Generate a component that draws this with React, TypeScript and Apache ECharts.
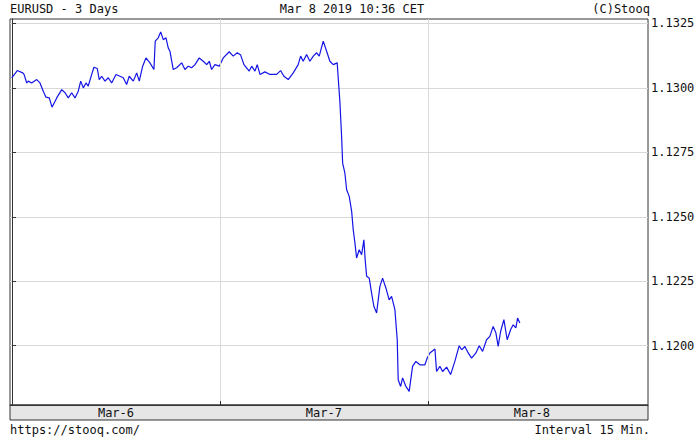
import { useEffect, useRef } from "react";
import * as echarts from "echarts";

// hours since Mar-6 00:00 CET
const hours = [
  -0.03, 0.61, 1.24, 1.39, 1.7, 1.88, 2.27, 2.85, 3.23, 3.61, 3.92, 4.3, 4.62, 5.16, 5.74, 6.12, 6.5, 6.89, 7.27, 7.65,
  7.93, 8.23, 8.54, 8.8, 9.2, 9.46, 9.84, 10.07, 10.35, 10.73, 11.11, 11.5, 12.0, 12.46, 12.84, 13.23, 13.53, 14.0, 14.39, 14.69,
  15.08, 15.46, 15.92, 16.38, 16.53, 16.88, 17.16, 17.46, 17.77, 18.03, 18.23, 18.61, 19.0, 19.58, 19.96, 20.34, 20.73, 21.12, 21.61, 22.07,
  22.47, 22.77, 23.04, 23.42, 23.92, 24.38, 25.07, 25.53, 26.0, 26.39, 26.77, 27.38, 27.66, 28.04, 28.3, 28.62, 29.19, 29.77, 30.54, 31.0,
  31.38, 31.88, 32.46, 33.03, 33.31, 33.61, 34.0, 34.38, 34.77, 35.16, 35.46, 35.92, 36.31, 36.69, 37.07, 37.53, 37.65, 37.85, 38.04, 38.16,
  38.42, 38.62, 38.92, 39.2, 39.38, 39.58, 39.77, 40.07, 40.35, 40.61, 40.76, 40.93, 41.23, 41.5, 41.77, 42.08, 42.46, 42.77, 43.15, 43.53,
  43.81, 44.19, 44.46, 44.57, 44.85, 45.08, 45.46, 45.84, 46.23, 46.61, 47.08, 47.65, 47.92, 48.23, 48.81, 49.0, 49.38, 49.7, 50.16, 50.62,
  51.11, 51.61, 51.89, 52.27, 52.65, 53.04, 53.54, 53.92, 54.31, 54.77, 55.15, 55.53, 55.85, 56.11, 56.39, 56.77, 57.15, 57.54, 57.84, 58.15,
  58.35, 58.61,
];

const prices = [
  1.13039, 1.13067, 1.13058, 1.13052, 1.13019, 1.13026, 1.13019, 1.13032, 1.13019, 1.12987, 1.12964, 1.12961, 1.12925, 1.12961, 1.12993, 1.12981, 1.12961, 1.12981, 1.12961, 1.12987,
  1.13026, 1.13, 1.13019, 1.13007, 1.13052, 1.1308, 1.13075, 1.13032, 1.13045, 1.13026, 1.13039, 1.13019, 1.13052, 1.13045, 1.13039, 1.13013, 1.13045, 1.13026, 1.13058, 1.13026,
  1.13084, 1.13116, 1.13097, 1.13071, 1.13181, 1.13194, 1.13217, 1.13187, 1.13194, 1.13155, 1.13142, 1.13071, 1.13078, 1.13097, 1.13071, 1.13084, 1.13078, 1.1309, 1.13116, 1.13103,
  1.1309, 1.13103, 1.13071, 1.1309, 1.13084, 1.13116, 1.1314, 1.13123, 1.13136, 1.13127, 1.1309, 1.13065, 1.13084, 1.13065, 1.1309, 1.13052, 1.13062, 1.13052, 1.13052, 1.13067,
  1.13045, 1.13032, 1.13058, 1.1309, 1.13123, 1.13103, 1.13129, 1.13103, 1.13123, 1.13136, 1.13123, 1.13181, 1.13142, 1.13103, 1.1309, 1.13097, 1.13038, 1.12941, 1.12811, 1.12708,
  1.12669, 1.12605, 1.12579, 1.12521, 1.1245, 1.12398, 1.1234, 1.12372, 1.12353, 1.12411, 1.12333, 1.12269, 1.12262, 1.12204, 1.12152, 1.12127, 1.1223, 1.12262, 1.12224, 1.12178,
  1.12191, 1.1214, 1.12023, 1.11868, 1.11842, 1.11875, 1.11842, 1.11823, 1.1192, 1.11939, 1.11926, 1.11926, 1.11952, 1.11972, 1.11987, 1.119, 1.1192, 1.119, 1.11917, 1.11888,
  1.11939, 1.12, 1.11984, 1.11997, 1.11972, 1.11952, 1.11972, 1.12, 1.11978, 1.12023, 1.12036, 1.12075, 1.12049, 1.11997, 1.12055, 1.12101, 1.12023, 1.12062, 1.12081, 1.12069,
  1.12107, 1.12088,
];

const yTickValues = [1.12, 1.1225, 1.125, 1.1275, 1.13, 1.1325];
const dayBoundaries = [24, 48];
const dayCenters = [12, 36, 60];
const dayLabels = ["Mar-6", "Mar-7", "Mar-8"];

const titleLeft = "EURUSD - 3 Days";
const titleCenter = "Mar 8 2019 10:36 CET";
const titleRight = "(C)Stooq";
const footerLeft = "https://stooq.com/";
const footerRight = "Interval 15 Min.";

const FONT = "'DejaVu Sans Mono', monospace";

export default function App() {
  const ref = useRef<HTMLDivElement>(null);
  useEffect(() => {
    const chart = echarts.init(ref.current!, null, { renderer: "svg" });
    const textStyle = { fontFamily: FONT, fontSize: 12, fill: "#111" };
    chart.setOption({
      animation: false,
      backgroundColor: "#fff",
      grid: { left: 10, right: 52, top: 19, bottom: 33, show: true, borderColor: "#333", borderWidth: 1, backgroundColor: "transparent" },
      xAxis: [
        {
          type: "value",
          min: -0.23,
          max: 73.4,
          position: "bottom",
          z: 10,
          axisLine: { show: true, lineStyle: { color: "#333" } },
          axisTick: { show: true, inside: true, length: 4, customValues: dayBoundaries, lineStyle: { color: "#333" } },
          splitLine: { show: true, lineStyle: { color: "#d9d9d9", width: 1 } },
          axisLabel: {
            show: true,
            customValues: dayCenters,
            margin: 2,
            fontFamily: FONT,
            fontSize: 12,
            color: "#111",
            formatter: (v: number) => dayLabels[dayCenters.indexOf(v)] ?? "",
          },
        },
        {
          type: "value",
          min: -0.23,
          max: 73.4,
          position: "top",
          axisLine: { show: false },
          axisTick: { show: true, inside: true, length: 4, customValues: dayBoundaries, lineStyle: { color: "#333" } },
          splitLine: { show: false },
          axisLabel: { show: false },
        },
      ],
      yAxis: [
        {
          type: "value",
          min: 1.1177,
          max: 1.13267,
          position: "right",
          axisLine: { show: true, lineStyle: { color: "#333" } },
          axisTick: { show: true, inside: false, length: 4, customValues: yTickValues, lineStyle: { color: "#333" } },
          splitLine: { show: true, lineStyle: { color: "#d9d9d9", width: 1 } },
          axisLabel: {
            show: true,
            customValues: yTickValues,
            margin: 3,
            fontFamily: FONT,
            fontSize: 12,
            color: "#111",
            formatter: (v: number) => v.toFixed(4),
          },
        },
        {
          type: "value",
          min: 1.1177,
          max: 1.13267,
          position: "left",
          axisLine: { show: false },
          axisTick: { show: true, inside: true, length: 4, customValues: yTickValues, lineStyle: { color: "#333" } },
          splitLine: { show: false },
          axisLabel: { show: false },
        },
      ],
      series: [
        {
          type: "line",
          xAxisIndex: 0,
          yAxisIndex: 0,
          data: hours.map((h, i) => [h, prices[i]]),
          showSymbol: false,
          symbol: "none",
          lineStyle: { color: "#1414e6", width: 1.2 },
          clip: true,
          z: 5,
        },
      ],
      graphic: [
        { type: "rect", z: -1, shape: { x: 10, y: 405, width: 638, height: 15 }, style: { fill: "#e6e6e6", stroke: "#333", lineWidth: 1 } },
        { type: "text", x: 10, y: 9, style: { ...textStyle, text: titleLeft, textAlign: "left", textVerticalAlign: "middle" } },
        { type: "text", x: 352, y: 9, style: { ...textStyle, text: titleCenter, textAlign: "center", textVerticalAlign: "middle" } },
        { type: "text", x: 650, y: 9, style: { ...textStyle, text: titleRight, textAlign: "right", textVerticalAlign: "middle" } },
        { type: "text", x: 10, y: 430, style: { ...textStyle, text: footerLeft, textAlign: "left", textVerticalAlign: "middle" } },
        { type: "text", x: 650, y: 430, style: { ...textStyle, text: footerRight, textAlign: "right", textVerticalAlign: "middle" } },
      ],
    });
    return () => chart.dispose();
  }, []);
  return <div ref={ref} style={{ position: "fixed", left: 0, top: 0, width: 700, height: 438 }} />;
}
